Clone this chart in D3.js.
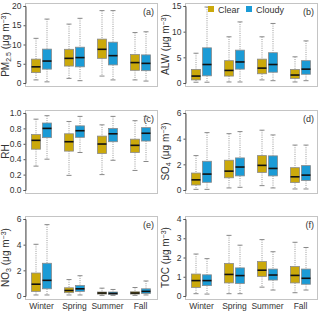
<!DOCTYPE html>
<html>
<head>
<meta charset="utf-8">
<script src="https://cdn.jsdelivr.net/npm/d3@7"></script>
<style>
  body { margin: 0; background: #fff; }
  svg { display: block; font-family: "Liberation Sans", Arial, sans-serif; }
</style>
</head>
<body>
<svg id="chart" width="320" height="312"></svg>
<script>
// seasons and the two sky conditions
const seasons = ["Winter", "Spring", "Summer", "Fall"];
const conditions = ["Clear", "Cloudy"];

// box stats per season: [whiskerLow, q1, median, q3, whiskerHigh]
const pm25Clear  = [[0.8, 2.7, 4.2, 6.2, 11.6], [1.2, 4.4, 6.4, 8.75, 15.3], [1.8, 6.4, 8.75, 11.4, 18.8], [0.8, 3.3, 5.3, 7.4, 13.1]];
const pm25Cloudy = [[0.3, 3.6, 5.7, 8.8, 16.6], [0.6, 4.2, 6.6, 9.3, 16.8], [0.8, 4.7, 7.1, 10.6, 18.8], [0.5, 3.2, 5.1, 7.3, 13.3]];
const alwClear   = [[0.15, 0.6, 1.35, 2.65, 5.8], [0.2, 1.35, 2.45, 4.35, 9.0], [0.6, 1.8, 2.9, 4.65, 9.0], [0.2, 0.9, 1.55, 2.65, 5.1]];
const alwCloudy  = [[0.15, 1.4, 3.6, 6.85, 14.8], [0.2, 2.7, 4.1, 6.4, 11.9], [0.45, 2.1, 3.6, 5.9, 11.6], [0.45, 1.7, 2.7, 4.35, 8.2]];
const rhClear    = [[0.31, 0.53, 0.645, 0.72, 0.92], [0.19, 0.505, 0.627, 0.73, 0.89], [0.2, 0.474, 0.597, 0.70, 0.846], [0.254, 0.487, 0.58, 0.66, 0.90]];
const rhCloudy   = [[0.40, 0.68, 0.80, 0.87, 0.965], [0.487, 0.684, 0.77, 0.833, 0.956], [0.386, 0.627, 0.73, 0.80, 0.956], [0.37, 0.636, 0.737, 0.81, 0.956]];
const so4Clear   = [[0.05, 0.39, 0.79, 1.32, 2.68], [0.16, 0.95, 1.47, 2.32, 4.39], [0.34, 1.37, 1.92, 2.68, 4.66], [0.08, 0.58, 1.03, 1.74, 3.5]];
const so4Cloudy  = [[0.05, 0.6, 1.24, 2.24, 4.47], [0.21, 1.1, 1.79, 2.5, 4.55], [0.16, 1.1, 1.68, 2.66, 4.29], [0.08, 0.74, 1.16, 1.9, 3.5]];
const no3Clear   = [[0.08, 0.36, 0.92, 1.79, 4.03], [0.08, 0.26, 0.43, 0.64, 1.28], [0.05, 0.15, 0.23, 0.31, 0.61], [0.05, 0.15, 0.23, 0.33, 0.66]];
const no3Cloudy  = [[0.08, 0.56, 1.22, 2.55, 5.56], [0.08, 0.36, 0.56, 0.82, 1.58], [0.05, 0.13, 0.2, 0.31, 0.51], [0.08, 0.2, 0.36, 0.56, 1.17]];
const tocClear   = [[0.12, 0.44, 0.8, 1.14, 2.18], [0.12, 0.68, 1.12, 1.69, 3.15], [0.46, 1.02, 1.34, 1.79, 2.93], [0.17, 0.68, 1.07, 1.53, 2.79]];
const tocCloudy  = [[0.1, 0.54, 0.8, 1.1, 1.94], [0.12, 0.65, 1.06, 1.46, 2.64], [0.31, 0.83, 1.09, 1.4, 2.3], [0.31, 0.61, 0.92, 1.4, 2.52]];

// tick labels per panel
const ticksA = [0, 5, 10, 15, 20];
const ticksB = [0, 5, 10, 15];
const ticksC = [0, 0.2, 0.4, 0.6, 0.8, 1.0];
const ticksD = [0, 2, 4, 6];
const ticksE = [0, 2, 4, 6];
const ticksF = [0, 1, 2, 3, 4];

const panels = [
  { tag: "(a)", name: "PM", sub: "2.5", unit: true, ticks: ticksA, fmt: d3.format("d"), data: [pm25Clear, pm25Cloudy] },
  { tag: "(b)", name: "ALW", sub: "", unit: true, ticks: ticksB, fmt: d3.format("d"), data: [alwClear, alwCloudy] },
  { tag: "(c)", name: "RH", sub: "", unit: false, ticks: ticksC, fmt: d3.format(".1f"), data: [rhClear, rhCloudy] },
  { tag: "(d)", name: "SO", sub: "4", unit: true, ticks: ticksD, fmt: d3.format("d"), data: [so4Clear, so4Cloudy] },
  { tag: "(e)", name: "NO", sub: "3", unit: true, ticks: ticksE, fmt: d3.format("d"), data: [no3Clear, no3Cloudy] },
  { tag: "(f)", name: "TOC", sub: "", unit: true, ticks: ticksF, fmt: d3.format("d"), data: [tocClear, tocCloudy] }
];

const colors = { Clear: "#cba90b", Cloudy: "#1b9bd6" };
const colLeft = [25, 185];
const panelW = 132;
const rowTop = [3, 110, 216];
const panelH = 83;
const pad = 3;

const svg = d3.select("#chart");

panels.forEach((p, i) => {
  const col = i % 2, row = Math.floor(i / 2);
  const x0 = colLeft[col], y0 = rowTop[row];
  const g = svg.append("g").attr("transform", `translate(${x0},${y0})`);

  const x = d3.scaleBand().domain(seasons).range([0, panelW]);
  const xc = d3.scaleBand().domain(conditions).range([x.bandwidth() / 2 - 11, x.bandwidth() / 2 + 11]);
  const y = d3.scaleLinear().domain([0, d3.max(p.ticks)]).range([panelH - pad, pad]);

  // frame
  g.append("rect").attr("x", 0.5).attr("y", 0.5).attr("width", panelW).attr("height", panelH)
    .attr("fill", "none").attr("stroke", "#c4c4c4");

  // y axis
  const ya = g.append("g").attr("transform", "translate(0.5,0)")
    .call(d3.axisLeft(y).tickValues(p.ticks).tickFormat(p.fmt).tickSize(2).tickPadding(2));
  ya.select(".domain").attr("stroke", "#555");
  ya.selectAll(".tick line").attr("stroke", "#555");
  ya.selectAll(".tick text").attr("fill", "#333").style("font-size", "8.5px")
    .style("font-family", "'Liberation Sans', Arial, sans-serif");

  // x axis labels only on the bottom row
  if (row === 2) {
    g.selectAll("text.season").data(seasons).join("text")
      .attr("class", "season")
      .attr("x", d => x(d) + x.bandwidth() / 2)
      .attr("y", panelH + 10)
      .attr("text-anchor", "middle")
      .attr("fill", "#333").style("font-size", "8.5px")
      .text(d => d);
  }

  // boxes
  const bw = 9;
  conditions.forEach((c, k) => {
    const stats = p.data[k];
    seasons.forEach((s, j) => {
      const [lo, q1, med, q3, hi] = stats[j];
      const cx = x(s) + xc(c) + xc.bandwidth() / 2;
      const bg = g.append("g");
      // whiskers
      bg.append("line").attr("x1", cx).attr("x2", cx).attr("y1", y(hi)).attr("y2", y(q3))
        .attr("stroke", "#999").attr("stroke-dasharray", "1,1.2");
      bg.append("line").attr("x1", cx).attr("x2", cx).attr("y1", y(q1)).attr("y2", y(lo))
        .attr("stroke", "#999").attr("stroke-dasharray", "1,1.2");
      [lo, hi].forEach(v => {
        bg.append("line").attr("x1", cx - 2.5).attr("x2", cx + 2.5).attr("y1", y(v)).attr("y2", y(v))
          .attr("stroke", "#888");
      });
      bg.append("rect").attr("x", cx - bw / 2).attr("y", y(q3)).attr("width", bw).attr("height", y(q1) - y(q3))
        .attr("fill", colors[c]).attr("stroke", "#8a8a8a").attr("stroke-width", 0.8);
      bg.append("line").attr("x1", cx - bw / 2).attr("x2", cx + bw / 2).attr("y1", y(med)).attr("y2", y(med))
        .attr("stroke", "#111").attr("stroke-width", 1.6);
    });
  });

  // panel tag
  g.append("text").attr("x", panelW - 3).attr("y", 12).attr("text-anchor", "end")
    .attr("fill", "#333").style("font-size", "9px").text(p.tag);

  // y label
  const lab = svg.append("text")
    .attr("transform", `translate(${x0 - 16},${y0 + panelH / 2}) rotate(-90)`)
    .attr("text-anchor", "middle").attr("fill", "#333").style("font-size", "10px");
  lab.append("tspan").text(p.name);
  if (p.sub) lab.append("tspan").attr("baseline-shift", "-25%").style("font-size", "7px").text(p.sub);
  if (p.unit) {
    lab.append("tspan").text(" (\u03bcg m");
    lab.append("tspan").attr("baseline-shift", "super").style("font-size", "7px").text("\u22123");
    lab.append("tspan").text(")");
  }
});

// legend in panel (b)
const lg = svg.append("g").attr("transform", "translate(208,5)");
conditions.forEach((c, k) => {
  const item = lg.append("g").attr("transform", `translate(${k * 38},0)`);
  item.append("rect").attr("width", 6).attr("height", 6).attr("y", 1).attr("fill", colors[c]);
  item.append("text").attr("x", 10).attr("y", 7.5).attr("fill", "#333").style("font-size", "9px").text(c);
});
</script>
</body>
</html>
